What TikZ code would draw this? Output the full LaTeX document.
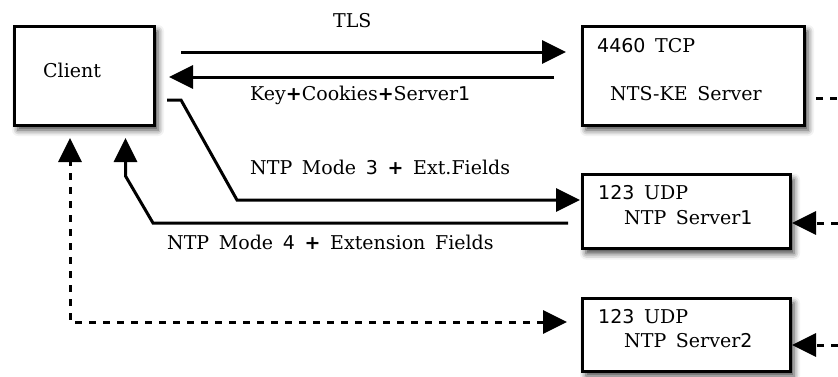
\documentclass[tikz,border=0pt]{standalone}
\usepackage{fontspec}
\setmainfont[WordSpace=1.6]{DejaVu Serif}
\newfontfamily\dgfont[WordSpace=1.6]{DejaVu Sans}
\usetikzlibrary{arrows.meta,shadows.blur}
\newcommand\dn[1]{{\dgfont #1}}
\newcommand\pl{{\dgfont\bfseries +}}
\begin{document}
\begin{tikzpicture}[x=1pt,y=-1pt,
  font=\fontsize{19}{22}\selectfont,
  box/.style={draw,line width=3pt,fill=white,inner sep=0pt,
    blur shadow={shadow xshift=4pt,shadow yshift=-5pt,shadow blur radius=6pt,shadow opacity=75}},
  lbl/.style={anchor=base west,inner sep=0pt},
  conn/.style={line width=3pt,-{Triangle[length=24pt,width=23pt]}},
  dconn/.style={conn,dash pattern=on 7pt off 7pt},
  ddconn/.style={line width=3pt,{Triangle[length=24pt,width=23pt]}-{Triangle[length=24pt,width=23pt]},dash pattern=on 7pt off 7pt}]
\useasboundingbox (0,0) rectangle (838,376);
% boxes
\node[box,minimum width=140pt,minimum height=99pt] (client) at (84,75.5) {};
\node[box,minimum width=222pt,minimum height=99pt] (ke) at (693,75.5) {};
\node[box,minimum width=208pt,minimum height=74pt] (s1) at (686,211.5) {};
\node[box,minimum width=208pt,minimum height=73pt] (s2) at (686,334.5) {};
% box texts
\node[lbl] (tclient) at (43,77) {Client};
\node[lbl] (tke1) at (597,52) {\dn{4460} TCP};
\node[lbl] (tke2) at (610,100) {NTS-KE Server};
\node[lbl] (ts1a) at (598,199) {\dn{123} UDP};
\node[lbl] (ts1b) at (624,224) {NTP Server\dn{1}};
\node[lbl] (ts2a) at (598,323) {\dn{123} UDP};
\node[lbl] (ts2b) at (624,347) {NTP Server\dn{2}};
% connector labels
\node[lbl] (ltls) at (333,27) {TLS};
\node[lbl] (lkey) at (250,100) {Key\pl Cookies\pl Server\dn{1}};
\node[lbl] (lm3) at (250,174) {NTP Mode \dn{3} \pl{} Ext.Fields};
\node[lbl] (lm4) at (167,249) {NTP Mode \dn{4} \pl{} Extension Fields};
% coordinates
\coordinate (a1) at (181,52);
\coordinate (a2) at (566,52);
\coordinate (b1) at (554,77);
\coordinate (b2) at (169,77);
\coordinate (c0) at (167,100);
\coordinate (c1) at (181,100);
\coordinate (c2) at (237,200);
\coordinate (c3) at (580,200);
\coordinate (d0) at (568,223);
\coordinate (d1) at (153,223);
\coordinate (d2) at (125.5,176);
\coordinate (d3) at (125.5,138);
\coordinate (e0) at (567,322);
\coordinate (e1) at (70,322);
\coordinate (e2) at (70,138);
\coordinate (f0) at (816,98);
\coordinate (f1) at (838,98);
\coordinate (g0) at (838,223);
\coordinate (g1) at (792,223);
\coordinate (h0) at (838,345);
\coordinate (h1) at (792,345);
% connectors
\draw[conn] (a1) -- (a2);
\draw[conn] (b1) -- (b2);
\draw[conn,line join=miter] (c0) -- (c1) -- (c2) -- (c3);
\draw[conn,line join=miter] (d0) -- (d1) -- (d2) -- (d3);
\draw[ddconn] (e0) -- (e1) -- (e2);
\draw[line width=3pt,dash pattern=on 7pt off 7pt] (f0) -- (f1);
\draw[dconn] (g0) -- (g1);
\draw[dconn] (h0) -- (h1);
\end{tikzpicture}
\end{document}
